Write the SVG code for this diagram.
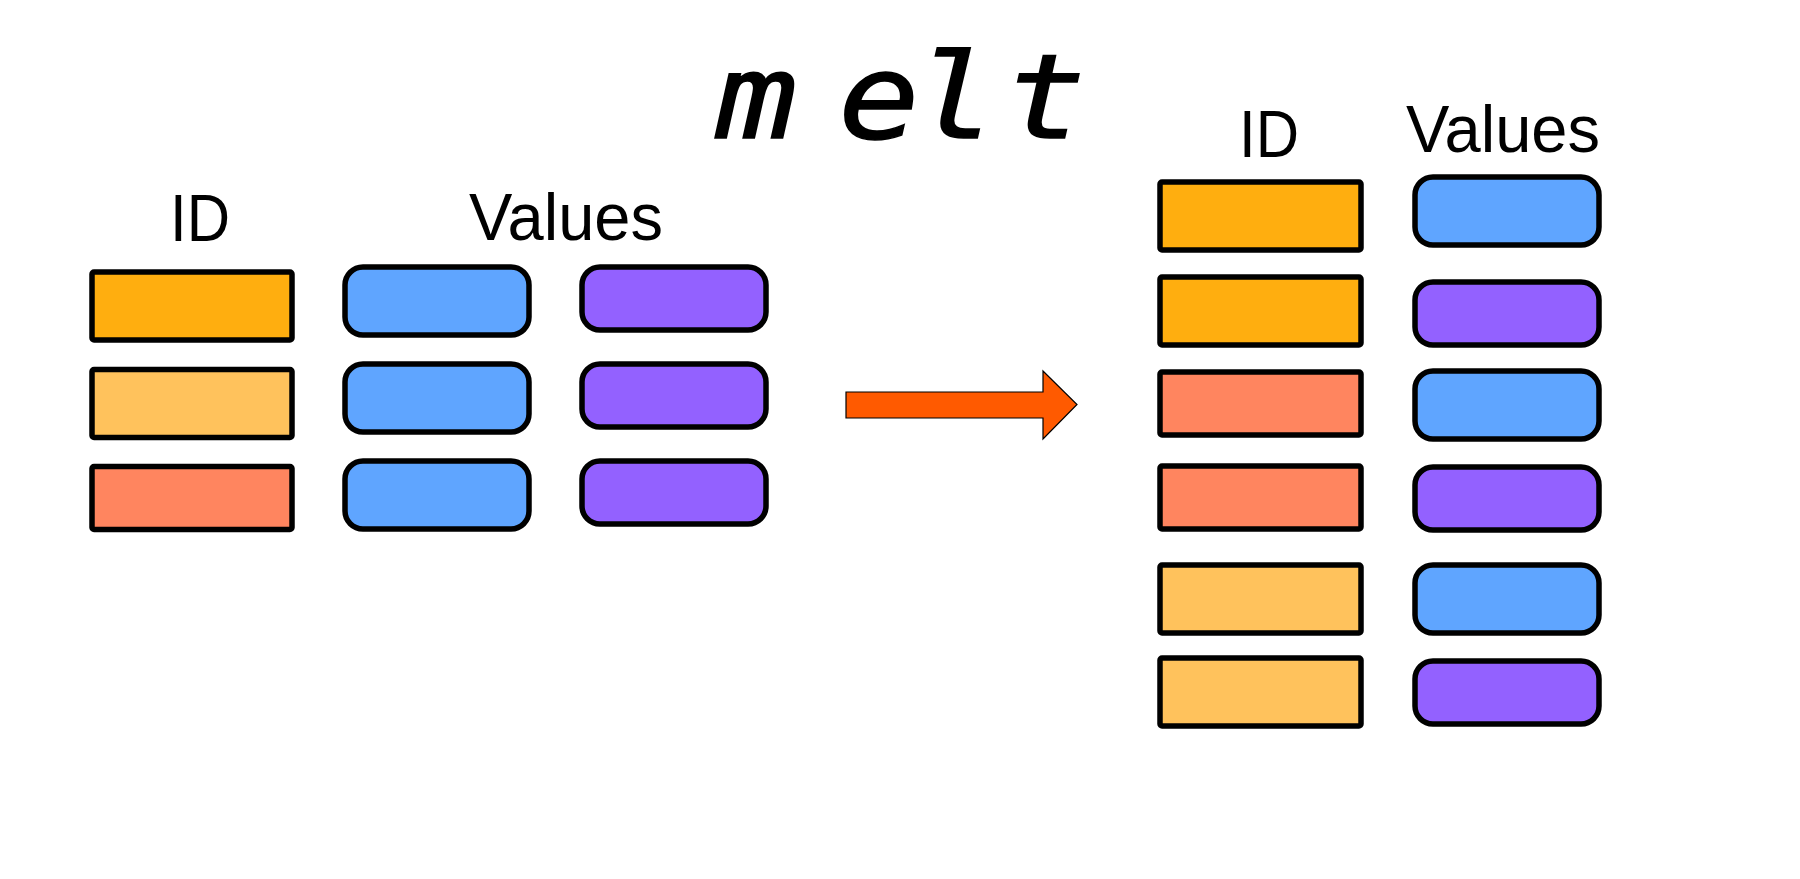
<svg xmlns="http://www.w3.org/2000/svg" width="1800" height="879" viewBox="0 0 1800 879">
<style>
.id{stroke:#000;stroke-width:5.5;stroke-linejoin:round}
.val{stroke:#000;stroke-width:5.5}
.o1{fill:#FFAE0F}
.o2{fill:#FFC25C}
.o3{fill:#FF855F}
.bl{fill:#5FA5FF}
.pu{fill:#9361FF}
.hdr{font-family:"Liberation Sans","Noto Sans",sans-serif;font-size:67px;fill:#000}
.title{font-family:"DejaVu Sans Mono","Liberation Mono",monospace;font-style:italic;font-size:117px;fill:#000;stroke:#000;stroke-width:1.5}
</style>
<rect width="1800" height="879" fill="#fff"/>
<g id="title"><text class="title" transform="scale(1.15 1)" x="622.6 729.1 795.7 874" y="138">melt</text></g>
<g id="left-headers">
<text class="hdr" x="170" y="241" textLength="60" lengthAdjust="spacingAndGlyphs">ID</text>
<text class="hdr" x="469" y="240" textLength="194" lengthAdjust="spacingAndGlyphs">Values</text>
</g>
<g id="left-id1"><rect class="id o1" x="92" y="272" width="200" height="68" rx="2"/></g>
<g id="left-id2"><rect class="id o2" x="92" y="369.5" width="200" height="68" rx="2"/></g>
<g id="left-id3"><rect class="id o3" x="92" y="466.5" width="200" height="63" rx="2"/></g>
<g id="left-v1a"><rect class="val bl" x="345" y="267" width="184" height="68" rx="18"/></g>
<g id="left-v2a"><rect class="val bl" x="345" y="364" width="184" height="68" rx="18"/></g>
<g id="left-v3a"><rect class="val bl" x="345" y="461" width="184" height="68" rx="18"/></g>
<g id="left-v1b"><rect class="val pu" x="582" y="267" width="184" height="63" rx="18"/></g>
<g id="left-v2b"><rect class="val pu" x="582" y="364" width="184" height="63" rx="18"/></g>
<g id="left-v3b"><rect class="val pu" x="582" y="461" width="184" height="63" rx="18"/></g>
<g id="connectors">
<path d="M846,392 L1043,392 L1043,371 L1077,404.5 L1043,439 L1043,418 L846,418 Z" fill="#FF5A00" stroke="#000" stroke-width="1.2"/>
</g>
<g id="right-headers">
<text class="hdr" x="1239" y="157" textLength="60" lengthAdjust="spacingAndGlyphs">ID</text>
<text class="hdr" x="1406" y="152" textLength="194" lengthAdjust="spacingAndGlyphs">Values</text>
</g>
<g id="right-id1"><rect class="id o1" x="1160" y="182" width="201" height="68" rx="2"/></g>
<g id="right-id2"><rect class="id o1" x="1160" y="277" width="201" height="68" rx="2"/></g>
<g id="right-id3"><rect class="id o3" x="1160" y="372" width="201" height="63" rx="2"/></g>
<g id="right-id4"><rect class="id o3" x="1160" y="466" width="201" height="63" rx="2"/></g>
<g id="right-id5"><rect class="id o2" x="1160" y="565" width="201" height="68" rx="2"/></g>
<g id="right-id6"><rect class="id o2" x="1160" y="658" width="201" height="68" rx="2"/></g>
<g id="right-v1"><rect class="val bl" x="1415" y="177" width="184" height="68" rx="18"/></g>
<g id="right-v2"><rect class="val pu" x="1415" y="282" width="184" height="63" rx="18"/></g>
<g id="right-v3"><rect class="val bl" x="1415" y="371" width="184" height="68" rx="18"/></g>
<g id="right-v4"><rect class="val pu" x="1415" y="467" width="184" height="63" rx="18"/></g>
<g id="right-v5"><rect class="val bl" x="1415" y="565" width="184" height="68" rx="18"/></g>
<g id="right-v6"><rect class="val pu" x="1415" y="661" width="184" height="63" rx="18"/></g>
</svg>
